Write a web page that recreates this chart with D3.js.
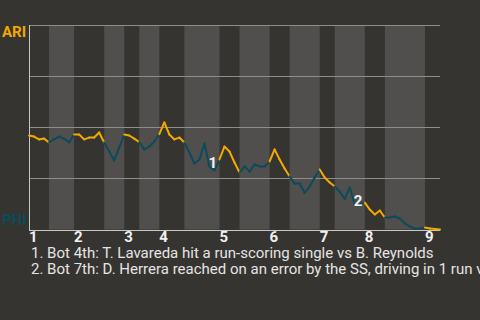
<!DOCTYPE html>
<html>
<head>
<meta charset="utf-8">
<script src="https://cdn.jsdelivr.net/npm/d3@7"></script>
<style>
  body { margin: 0; background: #363430; }
  svg { display: block; font-family: Roboto, "Noto Sans", sans-serif; }
</style>
</head>
<body>
<svg id="chart"></svg>
<script>
// Innings shown on the x axis
const innings = ['1', '2', '3', '4', '5', '6', '7', '8', '9'];
// Plate appearance index where each half inning starts (top 1st, bot 1st, ...)
const halfStarts = [0, 4, 9, 15, 19, 22, 26, 31, 38, 42, 48, 52, 58, 61, 67, 71, 79];
const lastEvent = 82;
// ARI win probability (%) after each plate appearance
const ariWinPct = [
  46.2, 45.7, 44.3, 44.7, 42.8, 44.3, 45.7, 44.7, 42.8, 46.7,
  46.7, 44.3, 45.2, 45.2, 47.7, 42.8, 38.4, 34.0, 40.3, 46.7,
  46.2, 44.7, 43.0, 39.4, 40.8, 43.3, 46.9, 52.6, 46.7, 44.3,
  45.2, 42.8, 37.9, 32.5, 34.5, 42.3, 31.1, 29.1, 34.5, 40.8,
  38.4, 33.0, 28.1, 31.1, 28.6, 32.0, 31.1, 31.1, 33.5, 39.4,
  34.5, 30.1, 26.2, 22.7, 22.7, 18.1, 21.3, 25.7, 29.6, 25.7,
  23.2, 21.3, 18.8, 15.2, 20.8, 12.5, 13.0, 13.4, 10.0, 7.6,
  9.5, 6.1, 6.1, 6.6, 5.6, 3.2, 1.7, 0.7, 0.7, 1.2,
  0.7, 0.5, 0.2
];
const teams = ['ARI', 'PHI'];
const gridTicks = [0, 25, 50, 75, 100];
// Key plays: event index and description
const keyEvents = [36, 65];
const keyNotes = [
  '1. Bot 4th: T. Lavareda hit a run-scoring single vs B. Reynolds',
  '2. Bot 7th: D. Herrera reached on an error by the SS, driving in 1 run vs'
];

const colors = { ARI: '#f2a900', PHI: '#0b4b5a' };
const width = 480, height = 320;

const svg = d3.select('#chart').attr('width', width).attr('height', height);

const x = d3.scaleLinear().domain([0, lastEvent]).range([29, 440]);
const y = d3.scaleLinear().domain([0, 100]).range([230, 25.5]);

// half inning bounds
const halves = halfStarts.map((s, i) => ({
  start: s,
  end: i + 1 < halfStarts.length ? halfStarts[i + 1] : lastEvent,
  top: i % 2 === 0
}));

// light stripes for bottom halves
svg.append('g').selectAll('rect')
  .data(halves.filter(d => !d.top))
  .join('rect')
  .attr('x', d => x(d.start))
  .attr('width', d => x(d.end) - x(d.start))
  .attr('y', y(100) - 0.5)
  .attr('height', y(0) - y(100))
  .attr('fill', '#504f4d');

// gridlines
svg.append('g').selectAll('line')
  .data(gridTicks.slice(1))
  .join('line')
  .attr('x1', x(0))
  .attr('x2', x(lastEvent))
  .attr('y1', d => Math.floor(y(d)) + 0.5)
  .attr('y2', d => Math.floor(y(d)) + 0.5)
  .attr('stroke', '#8e8d8a')
  .attr('stroke-width', 1);

// axes lines
svg.append('line')
  .attr('x1', x(0)).attr('x2', x(lastEvent))
  .attr('y1', Math.floor(y(0)) + 0.5).attr('y2', Math.floor(y(0)) + 0.5)
  .attr('stroke', '#c8c8c6');
svg.append('line')
  .attr('x1', Math.floor(x(0)) + 0.5).attr('x2', Math.floor(x(0)) + 0.5)
  .attr('y1', y(100) - 0.5).attr('y2', y(0) + 1)
  .attr('stroke', '#c8c8c6');

// win probability line, one segment per plate appearance
const segs = d3.range(1, ariWinPct.length).map(i => {
  const half = halves.find(h => i > h.start && i <= h.end);
  return { a: i - 1, b: i, top: half.top };
});
svg.append('g').selectAll('line')
  .data(segs)
  .join('line')
  .attr('x1', d => x(d.a))
  .attr('y1', d => y(ariWinPct[d.a]))
  .attr('x2', d => x(d.b))
  .attr('y2', d => y(ariWinPct[d.b]))
  .attr('stroke', d => d.top ? colors.ARI : colors.PHI)
  .attr('stroke-width', 2)
  .attr('stroke-linecap', 'round');

// key play markers
svg.append('g').selectAll('text')
  .data(keyEvents)
  .join('text')
  .attr('x', d => x(d) - 1)
  .attr('y', d => y(ariWinPct[d]) + 1.5)
  .attr('fill', '#f2f2f2')
  .attr('font-size', 15)
  .attr('font-weight', 'bold')
  .text((d, i) => i + 1);

// team labels
svg.append('text')
  .attr('x', 2).attr('y', y(100) + 11)
  .attr('fill', colors.ARI)
  .attr('font-size', 15).attr('font-weight', 'bold')
  .text(teams[0]);
svg.append('text')
  .attr('x', 2).attr('y', y(0) - 5)
  .attr('fill', colors.PHI)
  .attr('font-size', 15).attr('font-weight', 'bold')
  .text(teams[1]);

// inning labels
svg.append('g').selectAll('text')
  .data(innings)
  .join('text')
  .attr('x', (d, i) => x(halfStarts[i * 2]))
  .attr('y', 242)
  .attr('fill', '#f0f0f0')
  .attr('font-size', 15)
  .attr('font-weight', 'bold')
  .text(d => d);

// notes
svg.append('g').selectAll('text')
  .data(keyNotes)
  .join('text')
  .attr('x', 31)
  .attr('y', (d, i) => 257.7 + i * 16.6)
  .attr('fill', '#e4e4e4')
  .attr('font-size', 15)
  .text(d => d);
</script>
</body>
</html>
